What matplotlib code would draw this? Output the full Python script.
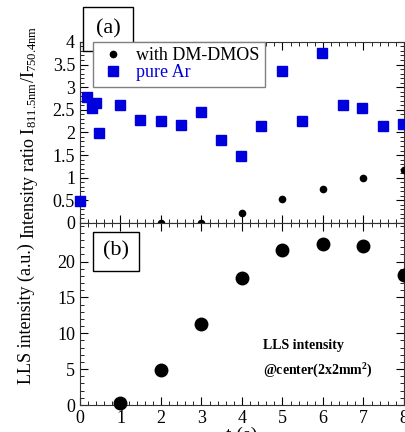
import matplotlib.pyplot as plt
from matplotlib.ticker import MultipleLocator, FixedLocator, FormatStrFormatter

# (a) intensity ratio, pure Ar
ar_t = [0.0, 0.18, 0.29, 0.39, 0.47, 1.0, 1.48, 1.99, 2.49, 2.98, 3.47, 3.98,
        4.48, 4.98, 5.49, 5.98, 6.49, 6.97, 7.48, 7.98]
ar_ratio = [0.48, 2.78, 2.54, 2.64, 1.98, 2.61, 2.28, 2.25, 2.16, 2.45, 1.83, 1.47,
            2.15, 3.36, 2.25, 3.75, 2.61, 2.53, 2.15, 2.19]

# (a) intensity ratio, with DM-DMOS
dm_t = [2, 3, 4, 5, 6, 7, 8]
dm_ratio = [0.0, 0.0, 0.21, 0.52, 0.75, 0.99, 1.16]

# (b) LLS intensity
lls_t = [1, 2, 3, 4, 5, 6, 7, 8]
lls_int = [0.3, 4.9, 11.3, 17.7, 21.6, 22.4, 22.2, 18.1]

plt.rcParams['font.family'] = ['Liberation Serif', 'DejaVu Serif']
plt.rcParams['mathtext.fontset'] = 'custom'
plt.rcParams['mathtext.rm'] = 'Liberation Serif'
plt.rcParams['mathtext.it'] = 'Liberation Serif:italic'

fig = plt.figure(figsize=(4.06, 4.32), dpi=100)
ax1 = fig.add_axes([0.197, 0.484, 0.798, 0.419])
ax2 = fig.add_axes([0.197, 0.0625, 0.798, 0.4215])

ax1.plot(dm_t, dm_ratio, 'o', color='black', markersize=4.5, clip_on=False,
         label='with DM-DMOS', zorder=5)
ax1.plot(ar_t, ar_ratio, 's', color='#0000dd', markersize=6.5, clip_on=False,
         label='pure Ar', zorder=5)
ax1.set_xlim(0, 8)
ax1.set_ylim(0, 4)
ax1.yaxis.set_major_locator(MultipleLocator(0.5))
ax1.yaxis.set_minor_locator(MultipleLocator(0.1))
ax1.yaxis.set_major_formatter(FormatStrFormatter('%g'))
ax1.set_ylabel(r'Intensity ratio I$_{\mathregular{811.5nm}}$/I$_{\mathregular{750.4nm}}$',
               fontsize=13, labelpad=9)
ax1.tick_params(labelbottom=False)
leg = ax1.legend(loc='upper left', bbox_to_anchor=(0.04, 1.0), fontsize=13,
                 frameon=True, fancybox=False, edgecolor='gray', framealpha=1,
                 handletextpad=0.5, borderpad=0.3, labelspacing=0.0,
                 handlelength=1.6, borderaxespad=0)
leg.get_texts()[1].set_color('#0000dd')
ax1.text(0.048, 1.018, '(a)', transform=ax1.transAxes, fontsize=16, va='bottom',
         bbox=dict(boxstyle='square,pad=0.55', facecolor='white', edgecolor='black'))

ax2.plot(lls_t, lls_int, 'o', color='black', markersize=9, clip_on=False, zorder=5)
ax2.set_xlim(0, 8)
ax2.set_ylim(0, 25.4)
ax2.yaxis.set_major_locator(FixedLocator([0, 5, 10, 15, 20]))
ax2.yaxis.set_minor_locator(MultipleLocator(1))
ax2.set_xlabel('t (s)', fontsize=14, labelpad=0)
ax2.set_ylabel('LLS intensity (a.u.)', fontsize=13, labelpad=16)
ax2.text(0.07, 0.845, '(b)', transform=ax2.transAxes, fontsize=16, va='center',
         bbox=dict(boxstyle='square,pad=0.45', facecolor='white', edgecolor='black'))
ax2.text(0.565, 0.305, 'LLS intensity', transform=ax2.transAxes, fontsize=10,
         fontweight='bold')
ax2.text(0.565, 0.165, r'@center(2x2mm$^{\mathregular{2}}$)', transform=ax2.transAxes,
         fontsize=10, fontweight='bold')

for ax in (ax1, ax2):
    ax.xaxis.set_major_locator(MultipleLocator(1))
    ax.xaxis.set_minor_locator(MultipleLocator(0.2))
    ax.tick_params(which='both', direction='in', top=True, right=True, labelsize=13)
    ax.tick_params(which='major', length=6)
    ax.tick_params(which='minor', length=3)
    for s in ax.spines.values():
        s.set_color('#333333')

fig.savefig('out.png', dpi=100)
